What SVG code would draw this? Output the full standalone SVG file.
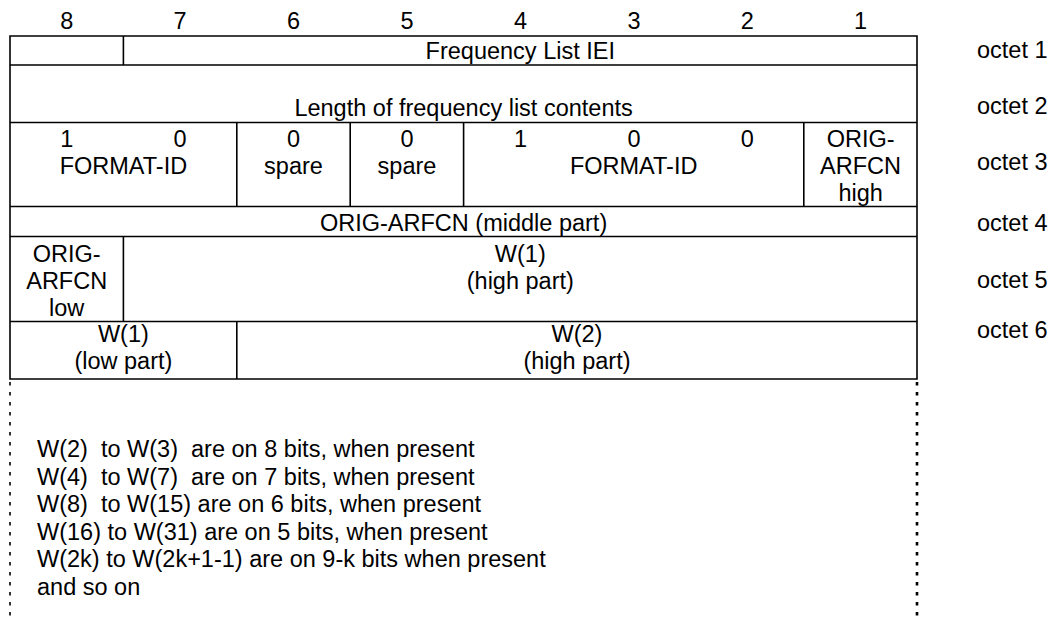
<svg xmlns="http://www.w3.org/2000/svg" width="1053" height="622" viewBox="0 0 1053 622">
<style>
text{font-family:"Liberation Sans",Arial,sans-serif;font-size:23.5px;fill:#000}
.c{text-anchor:middle}
.ln{stroke:#000;stroke-width:1.6;fill:none}
.dl{stroke:#000;stroke-width:1.6;fill:none;stroke-dasharray:3.5 6.5}
.dr{stroke:#000;stroke-width:2.6;fill:none;stroke-dasharray:3.5 6.5}
</style>
<rect width="1053" height="622" fill="#fff"/>
<g id="bits">
<text class="c" x="66.7" y="29">8</text>
<text class="c" x="180" y="29">7</text>
<text class="c" x="293.5" y="29">6</text>
<text class="c" x="407" y="29">5</text>
<text class="c" x="520.5" y="29">4</text>
<text class="c" x="634" y="29">3</text>
<text class="c" x="747.3" y="29">2</text>
<text class="c" x="860.6" y="29">1</text>
</g>
<g id="octets">
<text x="977" y="58">octet 1</text>
<text x="977" y="114">octet 2</text>
<text x="977" y="170">octet 3</text>
<text x="977" y="231">octet 4</text>
<text x="977" y="288">octet 5</text>
<text x="977" y="338">octet 6</text>
</g>
<g id="connectors">
<path class="ln" d="M10 36H917V379H10Z"/>
<path class="ln" d="M10 65H917M10 122.5H917M10 206.5H917M10 236.5H917M10 321.5H917"/>
<path class="ln" d="M123.4 36V65M236.8 122.5V206.5M350.2 122.5V206.5M463.6 122.5V206.5M803.8 122.5V206.5M123.4 236.5V321.5M236.8 321.5V379"/>
<path class="dl" d="M10 382V622"/>
<path class="dr" d="M917 382V622"/>
</g>
<g id="octet1"><text class="c" x="520.3" y="59">Frequency List IEI</text></g>
<g id="octet2"><text class="c" x="463.6" y="116">Length of frequency list contents</text></g>
<g id="octet3">
<text class="c" x="66.7" y="146.5">1</text>
<text class="c" x="180" y="146.5">0</text>
<text class="c" x="123.4" y="173.5">FORMAT-ID</text>
<text class="c" x="293.5" y="146.5">0</text>
<text class="c" x="293.5" y="173.5">spare</text>
<text class="c" x="407" y="146.5">0</text>
<text class="c" x="407" y="173.5">spare</text>
<text class="c" x="520.5" y="146.5">1</text>
<text class="c" x="634" y="146.5">0</text>
<text class="c" x="747.3" y="146.5">0</text>
<text class="c" x="633.7" y="173.5">FORMAT-ID</text>
<text class="c" x="860.6" y="146.5">ORIG-</text>
<text class="c" x="860.6" y="173.5">ARFCN</text>
<text class="c" x="860.6" y="200.5">high</text>
</g>
<g id="octet4"><text class="c" x="463.6" y="231">ORIG-ARFCN (middle part)</text></g>
<g id="octet5">
<text class="c" x="66.7" y="261.5">ORIG-</text>
<text class="c" x="66.7" y="288.5">ARFCN</text>
<text class="c" x="66.7" y="315.5">low</text>
<text class="c" x="520.3" y="261.5">W(1)</text>
<text class="c" x="520.3" y="288.5">(high part)</text>
</g>
<g id="octet6">
<text class="c" x="123.4" y="341.5">W(1)</text>
<text class="c" x="123.4" y="368.5">(low part)</text>
<text class="c" x="577" y="341.5">W(2)</text>
<text class="c" x="577" y="368.5">(high part)</text>
</g>
<g id="notes">
<text x="37" y="457" xml:space="preserve">W(2)  to W(3)  are on 8 bits, when present</text>
<text x="37" y="484.5" xml:space="preserve">W(4)  to W(7)  are on 7 bits, when present</text>
<text x="37" y="512" xml:space="preserve">W(8)  to W(15) are on 6 bits, when present</text>
<text x="37" y="539.5">W(16) to W(31) are on 5 bits, when present</text>
<text x="37" y="567">W(2k) to W(2k+1-1) are on 9-k bits when present</text>
<text x="37" y="594.5">and so on</text>
</g>
</svg>
